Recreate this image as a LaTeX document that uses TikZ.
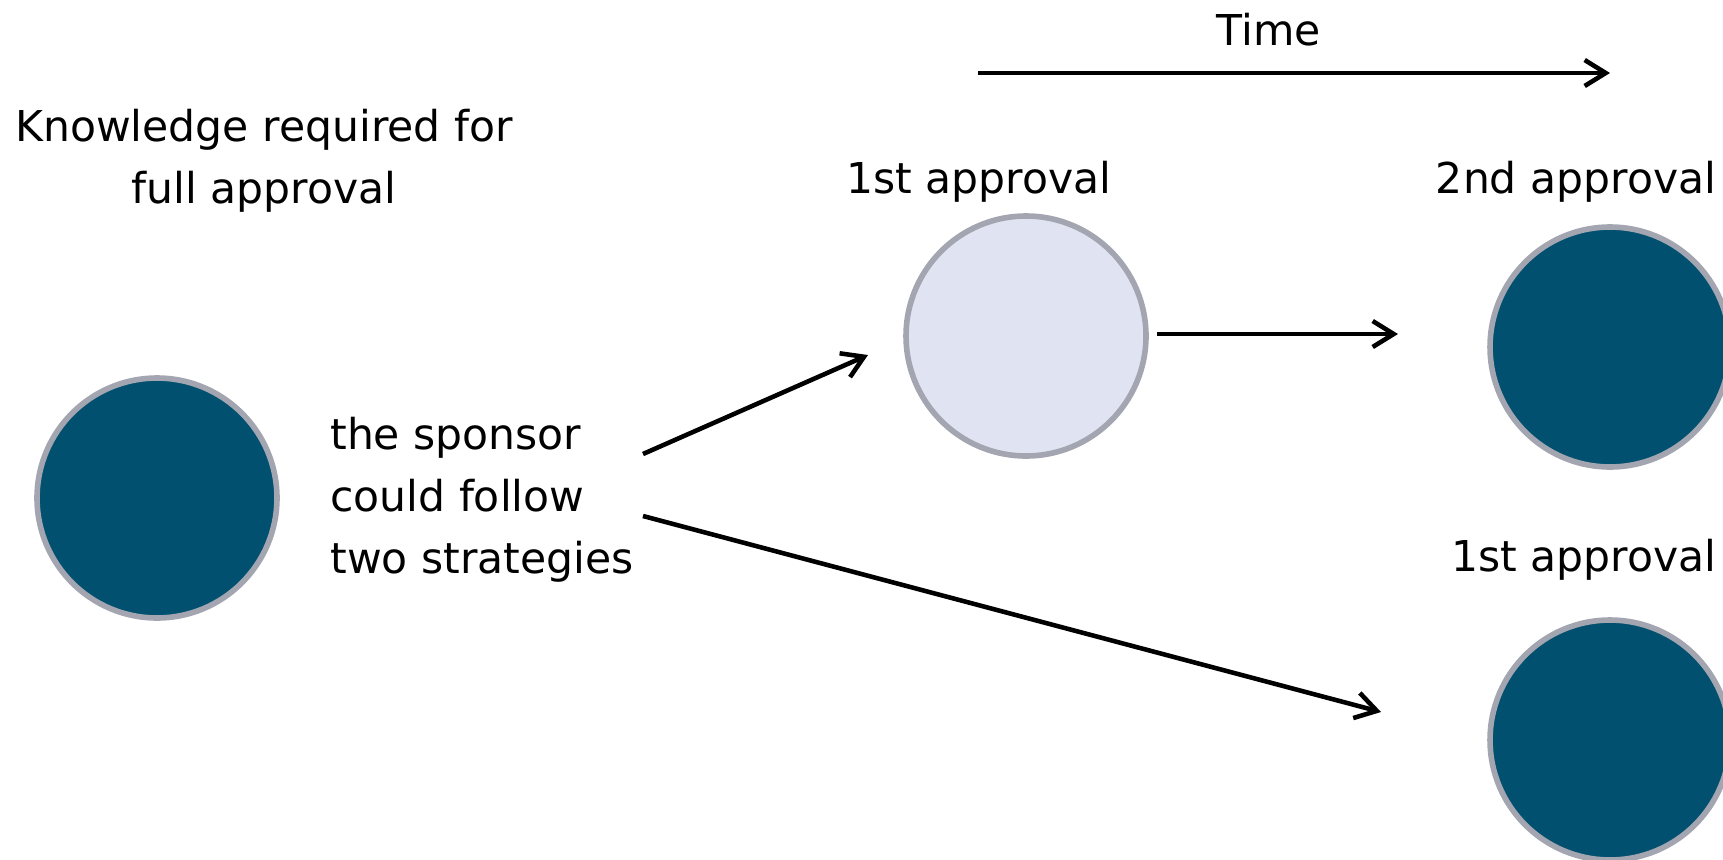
\documentclass[tikz,border=0pt]{standalone}
\usepackage{fontspec}
\setmainfont{DejaVu Sans}
\usetikzlibrary{arrows.meta}
\definecolor{darkblue}{RGB}{2,80,111}
\definecolor{paleblue}{RGB}{224,227,241}
\definecolor{ringgray}{RGB}{163,165,176}

\begin{document}
\begin{tikzpicture}[x=0.02cm,y=-0.02cm,
  ball/.style={circle,draw=ringgray,line width=3.2pt,minimum size=4.8cm,inner sep=0pt},
  txt/.style={font=\fontsize{24.2}{35.2}\selectfont,align=center,inner sep=0pt},
  arr/.style={-{Straight Barb[length=0.42cm,width=0.52cm]},line width=2.6pt}]
\clip (0,0) rectangle (1723,859);

% circles
\node[ball,fill=darkblue] (full) at (157,498) {};
\node[ball,fill=paleblue] (first) at (1026,336) {};
\node[ball,fill=darkblue] (second) at (1610,347) {};
\node[ball,fill=darkblue] (firstb) at (1610,740) {};

% texts
\node[txt] (time) at (1269,30) {Time};
\node[txt] (know) at (264,161) {Knowledge required for\\full approval};
\node[txt,align=left,anchor=west] (sponsor) at (330,500) {the sponsor\\could follow\\two strategies};
\node[txt] (firstlab) at (979,182) {1st approval};
\node[txt] (secondlab) at (1576,182) {2nd approval};
\node[txt] (firstblab) at (1584,560) {1st approval};

% arrows
\coordinate (t0) at (978,73);
\coordinate (t1) at (1610,73);
\coordinate (s1) at (643,454);
\coordinate (up) at (868,355);
\coordinate (s2) at (643,516);
\coordinate (down) at (1381,712);
\coordinate (s3) at (1157,334);
\coordinate (next) at (1398,334);
\draw[arr] (t0) -- (t1);
\draw[arr] (s1) -- (up);
\draw[arr] (s2) -- (down);
\draw[arr] (s3) -- (next);
\end{tikzpicture}
\end{document}
